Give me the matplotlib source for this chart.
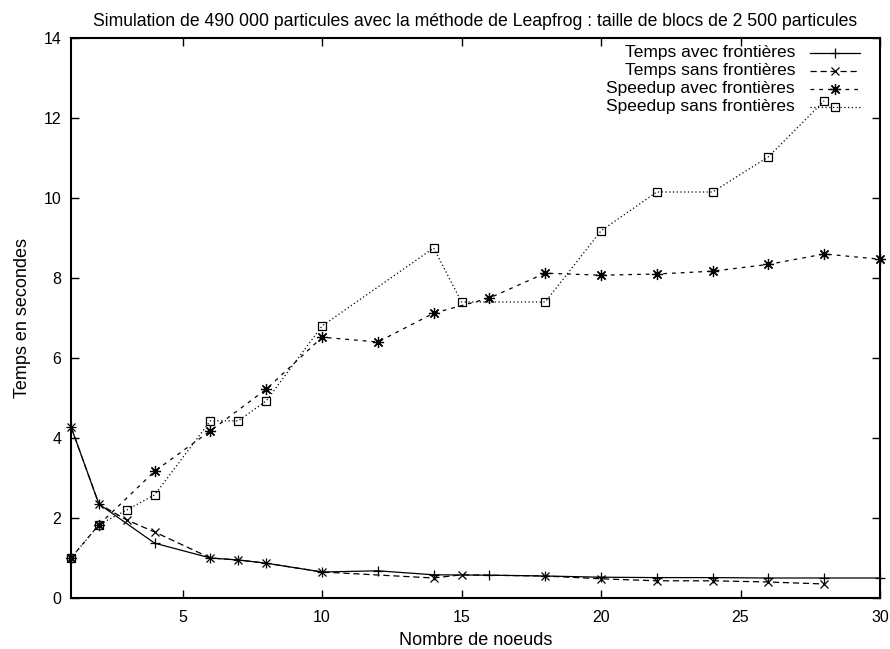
import matplotlib
matplotlib.use("Agg")
import matplotlib.pyplot as plt

plt.rcParams['font.family'] = ['Liberation Sans', 'DejaVu Sans']

# temps avec frontieres
x_ta = [1, 2, 4, 6, 7, 8, 10, 12, 14, 16, 18, 20, 22, 24, 26, 28, 30]
y_ta = [4.28, 2.35, 1.37, 1.0, 0.95, 0.87, 0.65, 0.68, 0.58, 0.57, 0.55, 0.52, 0.51, 0.51, 0.5, 0.5, 0.5]
# temps sans frontieres
x_ts = [1, 2, 3, 4, 6, 7, 8, 10, 14, 15, 18, 20, 22, 24, 26, 28]
y_ts = [4.28, 2.35, 1.95, 1.65, 1.0, 0.95, 0.87, 0.65, 0.5, 0.58, 0.55, 0.48, 0.43, 0.43, 0.4, 0.35]
# speedup avec frontieres
x_sa = [1, 2, 4, 6, 8, 10, 12, 14, 16, 18, 20, 22, 24, 26, 28, 30]
y_sa = [1.0, 1.83, 3.17, 4.18, 5.22, 6.52, 6.4, 7.12, 7.5, 8.12, 8.07, 8.1, 8.17, 8.34, 8.6, 8.47]
# speedup sans frontieres
x_ss = [1, 2, 3, 4, 6, 7, 8, 10, 14, 15, 18, 20, 22, 24, 26, 28]
y_ss = [1.0, 1.83, 2.2, 2.58, 4.43, 4.43, 4.93, 6.8, 8.75, 7.4, 7.4, 9.18, 10.15, 10.15, 11.03, 12.43]

labels = ["Temps avec frontières", "Temps sans frontières",
          "Speedup avec frontières", "Speedup sans frontières"]

fig = plt.figure(figsize=(8.9, 6.49), dpi=100)
ax = fig.add_axes([71/890, 1-598/649, (880-71)/890, (598-38)/649])

styles = [
    dict(ls='-', marker='+', ms=6.5),
    dict(ls=(0, (5, 3)), marker='x', ms=6),
    dict(ls=(0, (3, 4)), marker=(8, 2, 0), ms=8),
    dict(ls=(0, (1, 2)), marker='s', ms=6, mfc='none'),
]
data = [(x_ta, y_ta), (x_ts, y_ts), (x_sa, y_sa), (x_ss, y_ss)]

for (xs, ys), st in zip(data, styles):
    ax.plot(xs, ys, color='black', lw=0.9, mew=0.9, clip_on=False, **st)

# gnuplot-style key: text right aligned, sample on the right
for i, (lab, st) in enumerate(zip(labels, styles)):
    yk = 1 - (53 - 38 + i * 18) / 560
    ax.text(0.895, yk, lab, transform=ax.transAxes, ha='right', va='center', fontsize=12.5)
    ax.plot([0.913, 0.975], [yk, yk], transform=ax.transAxes, color='black', lw=0.9,
            ls=st['ls'], clip_on=False)
    ax.plot([0.944], [yk], transform=ax.transAxes, color='black', mew=0.9,
            marker=st['marker'], ms=st['ms'], mfc=st.get('mfc', 'black'), ls='none', clip_on=False)

ax.set_xlim(1, 30)
ax.set_ylim(0, 14)
ax.set_xticks([5, 10, 15, 20, 25, 30])
ax.set_yticks(range(0, 15, 2))
ax.tick_params(direction='in', length=6, width=1, top=True, right=True, labelsize=11.5)
ax.tick_params(axis='x', pad=9)
ax.tick_params(axis='y', pad=7)
for s in ax.spines.values():
    s.set_linewidth(1.5)

ax.set_title("Simulation de 490 000 particules avec la méthode de Leapfrog : taille de blocs de 2 500 particules",
             fontsize=12.7, pad=9)
ax.set_xlabel("Nombre de noeuds", fontsize=13, labelpad=5)
ax.set_ylabel("Temps en secondes", fontsize=13, labelpad=9)

fig.savefig("out.png", dpi=100)
